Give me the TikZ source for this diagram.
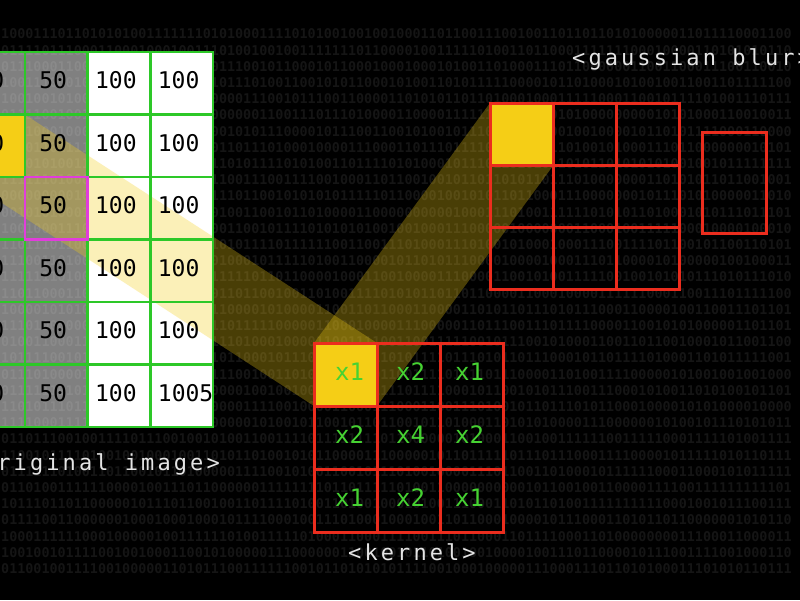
\documentclass[tikz,border=0pt]{standalone}
\usepackage{fontspec}
\usetikzlibrary{calc}
\newfontfamily\monofont{DejaVu Sans Mono}
\newfontfamily\monobold{DejaVu Sans Mono Bold}
\newfontfamily\lblfont[LetterSpace=14]{DejaVu Sans Mono}
\definecolor{bincol}{RGB}{21,21,21}
\definecolor{gridgreen}{RGB}{45,200,40}
\definecolor{kred}{RGB}{235,45,30}
\definecolor{hiyellow}{RGB}{245,206,22}
\definecolor{mag}{RGB}{225,60,220}
\definecolor{lblgray}{RGB}{228,228,228}
\definecolor{kgreen}{RGB}{70,210,50}
\begin{document}
\begin{tikzpicture}[x=1pt,y=-1pt,
  bintext/.style={anchor=west,inner sep=0pt,text=bincol,font={\monobold\fontsize{13.4}{14}\selectfont}},
  ocell/.style={minimum width=62.75pt,minimum height=62.5pt,inner sep=0pt,outer sep=0pt},
  kcell/.style={minimum width=63pt,minimum height=63pt,inner sep=0pt,outer sep=0pt},
  gcell/.style={minimum width=63.33pt,minimum height=62.33pt,inner sep=0pt,outer sep=0pt},
  numtext/.style={inner sep=0pt,text=black,font={\monofont\fontsize{23}{23}\selectfont}},
  ktext/.style={inner sep=0pt,text=kgreen,font={\monofont\fontsize{24}{24}\selectfont}},
  lbl/.style={inner sep=0pt,text=lblgray,font={\lblfont\fontsize{22}{22}\selectfont}},
  band/.style={fill=hiyellow,fill opacity=0.3},
  greenline/.style={draw=gridgreen,line width=2.5pt},
  redline/.style={draw=kred,line width=3pt},
  magline/.style={draw=mag,line width=2.5pt}]
\useasboundingbox (0,0) rectangle (800,600);
\fill[black] (0,0) rectangle (800,600);
% binary background
\pgfmathsetseed{12345}
\foreach \r in {0,...,33}{
  \gdef\rowstr{}
  \foreach \c in {1,...,98}{
    \pgfmathrandominteger{\bit}{0}{1}
    \xdef\rowstr{\rowstr\bit}
  }
  \node[bintext] (bin-\r) at (1,{34+16.2*\r}) {\rowstr};
}
% original image cells
\foreach \r in {1,...,6}{
  \foreach \c in {1,...,4}{
    \pgfmathsetmacro\cx{-38+(\c-0.5)*62.75}
    \pgfmathsetmacro\cy{52+(\r-0.5)*62.5}
    \ifnum\c<3
      \node[ocell,fill=white,fill opacity=0.5] (o-\r-\c) at (\cx,\cy) {};
    \else
      \node[ocell,fill=white] (o-\r-\c) at (\cx,\cy) {};
    \fi
  }
}
\fill[hiyellow] (o-2-1.north west) rectangle (o-2-1.south east);
% kernel cells
\foreach \r in {1,...,3}{
  \foreach \c in {1,...,3}{
    \pgfmathsetmacro\cx{314+(\c-0.5)*63}
    \pgfmathsetmacro\cy{343+(\r-0.5)*63}
    \node[kcell] (k-\r-\c) at (\cx,\cy) {};
  }
}
\fill[hiyellow] (k-1-1.north west) rectangle (k-1-1.south east);
% output cells
\foreach \r in {1,...,3}{
  \foreach \c in {1,...,3}{
    \pgfmathsetmacro\cx{490+(\c-0.5)*63.33}
    \pgfmathsetmacro\cy{103+(\r-0.5)*62.33}
    \node[gcell] (g-\r-\c) at (\cx,\cy) {};
  }
}
\fill[hiyellow] (g-1-1.north west) rectangle (g-1-1.south east);
\node[minimum width=64pt,minimum height=101pt,inner sep=0pt,outer sep=0pt] (g-side) at (734,182.5) {};
% projection bands
\fill[band] (o-2-1.north west) -- (o-2-1.north east) -- (k-1-1.north east) -- (k-1-1.south east) -- (k-1-1.south west) -- (o-2-1.south west) -- cycle;
\fill[band] (k-1-1.south west) -- (k-1-1.north west) -- (g-1-1.north west) -- (g-1-1.north east) -- (g-1-1.south east) -- (k-1-1.south east) -- cycle;
% green grid lines
\foreach \r in {1,...,6}{
  \foreach \c in {1,...,4}{
    \draw[greenline] (o-\r-\c.north west) rectangle (o-\r-\c.south east);
  }
}
\draw[magline] (o-3-2.north west) rectangle (o-3-2.south east);
% numbers
\foreach \r in {1,...,6}{
  \foreach \c in {1,2}{
    \node[numtext] (t-\r-\c) at ($(o-\r-\c.center)+(-3,-3)$) {50};
  }
}
\foreach \r in {1,...,5}{
  \foreach \c in {3,4}{
    \node[numtext] (t-\r-\c) at ($(o-\r-\c.center)+(-3,-3)$) {100};
  }
}
\node[numtext] (t-6-3) at ($(o-6-3.center)+(-3,-3)$) {100};
\begin{scope}
  \clip (o-6-4.north west) rectangle (o-6-4.south east);
  \node[numtext,anchor=west] (t-6-4) at ($(o-6-4.west)+(7.5,-3)$) {1005};
\end{scope}
\draw[greenline] (o-6-4.north west) rectangle (o-6-4.south east);
% kernel texts
\node[ktext] (kt-1-1) at ($(k-1-1.center)+(4,-3)$) {x1};
\node[ktext] (kt-1-2) at ($(k-1-2.center)+(2,-3)$) {x2};
\node[ktext] (kt-1-3) at ($(k-1-3.center)+(-2,-3)$) {x1};
\node[ktext] (kt-2-1) at ($(k-2-1.center)+(4,-3)$) {x2};
\node[ktext] (kt-2-2) at ($(k-2-2.center)+(2,-3)$) {x4};
\node[ktext] (kt-2-3) at ($(k-2-3.center)+(-2,-3)$) {x2};
\node[ktext] (kt-3-1) at ($(k-3-1.center)+(4,-3)$) {x1};
\node[ktext] (kt-3-2) at ($(k-3-2.center)+(2,-3)$) {x2};
\node[ktext] (kt-3-3) at ($(k-3-3.center)+(-2,-3)$) {x1};
% red grids
\foreach \r in {1,...,3}{
  \foreach \c in {1,...,3}{
    \draw[redline] (k-\r-\c.north west) rectangle (k-\r-\c.south east);
    \draw[redline] (g-\r-\c.north west) rectangle (g-\r-\c.south east);
  }
}
\draw[redline] (g-side.north west) rectangle (g-side.south east);
% labels
\node[lbl,anchor=base west] (lbl-gauss) at (572,65) {<gaussian blur>};
\node[lbl,anchor=base] (lbl-kernel) at (412,560) {<kernel>};
\node[lbl,anchor=base east] (lbl-orig) at (220,470) {<original image>};
\end{tikzpicture}
\end{document}
